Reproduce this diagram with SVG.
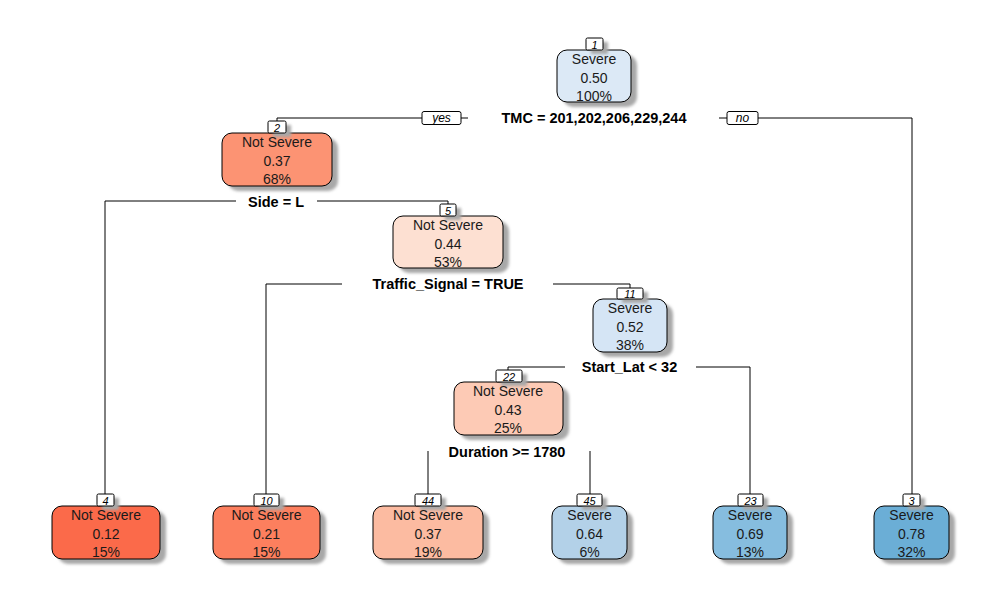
<svg xmlns="http://www.w3.org/2000/svg" width="1002" height="597" viewBox="0 0 1002 597">
<style>
.bg{fill:#fff}
.box{stroke:#000;stroke-width:1}
.sh{fill:#a8a8a8;filter:url(#blur)}
.lb{fill:#fff;stroke:#000;stroke-width:1}
.t{font-family:"Liberation Sans",Arial,sans-serif;font-size:14px;text-anchor:middle;fill:#1a1a1a}
.s{font-family:"Liberation Sans",Arial,sans-serif;font-size:14.5px;font-weight:bold;text-anchor:middle;fill:#000}
.n{font-family:"Liberation Sans",Arial,sans-serif;font-size:11px;font-style:italic;text-anchor:middle;fill:#000}
.yn{font-family:"Liberation Sans",Arial,sans-serif;font-size:12px;font-style:italic;text-anchor:middle;fill:#000}
.ln{fill:none;stroke:#000;stroke-width:1}
</style>
<defs>
<filter id="blur" x="-20%" y="-20%" width="140%" height="140%"><feGaussianBlur stdDeviation="1.4"/></filter>
</defs>
<rect class="bg" x="0" y="0" width="1002" height="597"/>
<g id="connectors">
<polyline class="ln" points="468,118 461,118"/>
<polyline class="ln" points="422,118 277,118 277,121"/>
<polyline class="ln" points="719,118 727,118"/>
<polyline class="ln" points="758,118 912,118 912,494"/>
<rect class="lb" x="422" y="111.5" width="39" height="13" rx="2"/>
<text class="yn" x="441.5" y="122">yes</text>
<rect class="lb" x="727" y="111.5" width="31" height="13" rx="2"/>
<text class="yn" x="742.5" y="122">no</text>
<polyline class="ln" points="236,201 105,201 105,494"/>
<polyline class="ln" points="317,201 448,201 448,204"/>
<polyline class="ln" points="342,284 266,284 266,494"/>
<polyline class="ln" points="553,284 630,284 630,288"/>
<polyline class="ln" points="565,367 508,367 508,370"/>
<polyline class="ln" points="696,367 750,367 750,494"/>
<polyline class="ln" points="428,451 428,494"/>
<polyline class="ln" points="590,451 590,494"/>
</g>
<g id="splits">
<text class="s" x="594" y="123">TMC = 201,202,206,229,244</text>
<text class="s" x="276" y="207">Side = L</text>
<text class="s" x="448" y="289">Traffic_Signal = TRUE</text>
<text class="s" x="629.5" y="372">Start_Lat &lt; 32</text>
<text class="s" x="507" y="457">Duration &gt;= 1780</text>
</g>
<g id="node1">
<rect class="sh" x="563" y="55" width="74" height="52" rx="10"/>
<rect class="box" x="557" y="50" width="74" height="52" rx="10" fill="#dce9f6"/>
<rect class="sh" x="591" y="42" width="17" height="12"/>
<rect class="lb" x="586" y="38" width="17" height="12" rx="1.5"/>
<text class="n" x="594.5" y="48.5">1</text>
<text class="t" x="594" y="64">Severe</text>
<text class="t" x="594" y="83">0.50</text>
<text class="t" x="594" y="101">100%</text>
</g>
<g id="node2">
<rect class="sh" x="228" y="138" width="110" height="53" rx="10"/>
<rect class="box" x="222" y="133" width="110" height="53" rx="10" fill="#fc9373"/>
<rect class="sh" x="273" y="125" width="18" height="12"/>
<rect class="lb" x="268" y="121" width="18" height="12" rx="1.5"/>
<text class="n" x="277" y="131.5">2</text>
<text class="t" x="277" y="147">Not Severe</text>
<text class="t" x="277" y="166">0.37</text>
<text class="t" x="277" y="184">68%</text>
</g>
<g id="node5">
<rect class="sh" x="399" y="221" width="110" height="52" rx="10"/>
<rect class="box" x="393" y="216" width="110" height="52" rx="10" fill="#fde0d2"/>
<rect class="sh" x="445" y="208" width="16" height="12"/>
<rect class="lb" x="440" y="204" width="16" height="12" rx="1.5"/>
<text class="n" x="448" y="214.5">5</text>
<text class="t" x="448" y="230">Not Severe</text>
<text class="t" x="448" y="249">0.44</text>
<text class="t" x="448" y="267">53%</text>
</g>
<g id="node11">
<rect class="sh" x="599" y="304" width="74" height="53" rx="10"/>
<rect class="box" x="593" y="299" width="74" height="53" rx="10" fill="#d5e5f5"/>
<rect class="sh" x="622" y="292" width="26" height="11"/>
<rect class="lb" x="617" y="288" width="26" height="11" rx="1.5"/>
<text class="n" x="630" y="297.5">11</text>
<text class="t" x="630" y="313">Severe</text>
<text class="t" x="630" y="332">0.52</text>
<text class="t" x="630" y="350">38%</text>
</g>
<g id="node22">
<rect class="sh" x="460" y="387" width="109" height="53" rx="10"/>
<rect class="box" x="454" y="382" width="109" height="53" rx="10" fill="#fdcab5"/>
<rect class="sh" x="501" y="374" width="26" height="12"/>
<rect class="lb" x="496" y="370" width="26" height="12" rx="1.5"/>
<text class="n" x="509" y="380.5">22</text>
<text class="t" x="508" y="396">Not Severe</text>
<text class="t" x="508" y="415">0.43</text>
<text class="t" x="508" y="433">25%</text>
</g>
<g id="node4">
<rect class="sh" x="58" y="511" width="108" height="53" rx="10"/>
<rect class="box" x="52" y="506" width="108" height="53" rx="10" fill="#fb6a4a"/>
<rect class="sh" x="102" y="498" width="17" height="12"/>
<rect class="lb" x="97" y="494" width="17" height="12" rx="1.5"/>
<text class="n" x="105.5" y="504.5">4</text>
<text class="t" x="106" y="520">Not Severe</text>
<text class="t" x="106" y="539">0.12</text>
<text class="t" x="106" y="557">15%</text>
</g>
<g id="node10">
<rect class="sh" x="219" y="511" width="107" height="53" rx="10"/>
<rect class="box" x="213" y="506" width="107" height="53" rx="10" fill="#fc7f5e"/>
<rect class="sh" x="259" y="498" width="25" height="12"/>
<rect class="lb" x="254" y="494" width="25" height="12" rx="1.5"/>
<text class="n" x="266.5" y="504.5">10</text>
<text class="t" x="266.5" y="520">Not Severe</text>
<text class="t" x="266.5" y="539">0.21</text>
<text class="t" x="266.5" y="557">15%</text>
</g>
<g id="node44">
<rect class="sh" x="379" y="511" width="110" height="53" rx="10"/>
<rect class="box" x="373" y="506" width="110" height="53" rx="10" fill="#fcbba1"/>
<rect class="sh" x="420" y="498" width="26" height="12"/>
<rect class="lb" x="415" y="494" width="26" height="12" rx="1.5"/>
<text class="n" x="428" y="504.5">44</text>
<text class="t" x="428" y="520">Not Severe</text>
<text class="t" x="428" y="539">0.37</text>
<text class="t" x="428" y="557">19%</text>
</g>
<g id="node45">
<rect class="sh" x="558" y="511" width="75" height="53" rx="10"/>
<rect class="box" x="552" y="506" width="75" height="53" rx="10" fill="#b3d1e8"/>
<rect class="sh" x="582" y="498" width="25" height="12"/>
<rect class="lb" x="577" y="494" width="25" height="12" rx="1.5"/>
<text class="n" x="589.5" y="504.5">45</text>
<text class="t" x="589.5" y="520">Severe</text>
<text class="t" x="589.5" y="539">0.64</text>
<text class="t" x="589.5" y="557">6%</text>
</g>
<g id="node23">
<rect class="sh" x="719" y="511" width="74" height="53" rx="10"/>
<rect class="box" x="713" y="506" width="74" height="53" rx="10" fill="#86bddf"/>
<rect class="sh" x="743" y="498" width="25" height="12"/>
<rect class="lb" x="738" y="494" width="25" height="12" rx="1.5"/>
<text class="n" x="750.5" y="504.5">23</text>
<text class="t" x="750" y="520">Severe</text>
<text class="t" x="750" y="539">0.69</text>
<text class="t" x="750" y="557">13%</text>
</g>
<g id="node3">
<rect class="sh" x="880" y="511" width="75" height="53" rx="10"/>
<rect class="box" x="874" y="506" width="75" height="53" rx="10" fill="#6baed6"/>
<rect class="sh" x="908" y="498" width="17" height="12"/>
<rect class="lb" x="903" y="494" width="17" height="12" rx="1.5"/>
<text class="n" x="911.5" y="504.5">3</text>
<text class="t" x="911.5" y="520">Severe</text>
<text class="t" x="911.5" y="539">0.78</text>
<text class="t" x="911.5" y="557">32%</text>
</g>
</svg>
